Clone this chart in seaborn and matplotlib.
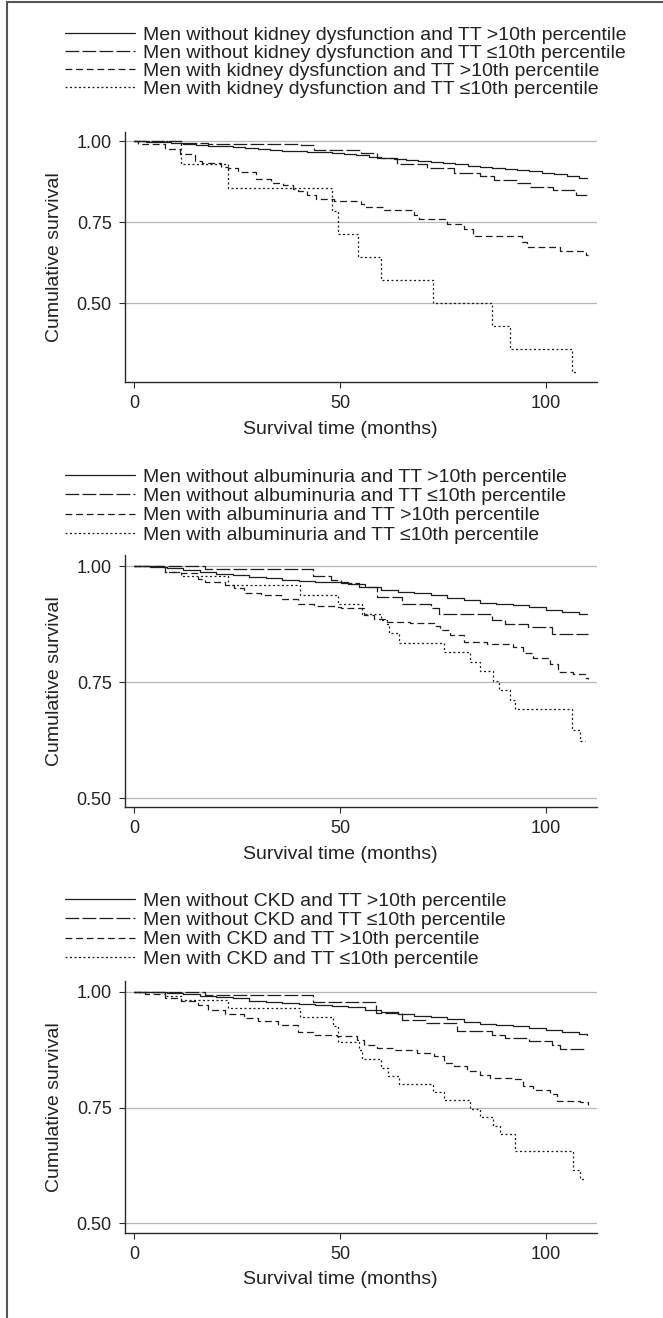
import numpy as np
import pandas as pd
import matplotlib
matplotlib.use("Agg")
import matplotlib.pyplot as plt
import seaborn as sns
from matplotlib.lines import Line2D

sns.set_theme(style="white")
plt.rcParams['font.family'] = ['Liberation Sans', 'DejaVu Sans']

# ---------------- data ----------------
# Panel 1: kidney dysfunction
kd_labels = ["Men without kidney dysfunction and TT >10th percentile",
             "Men without kidney dysfunction and TT \u226410th percentile",
             "Men with kidney dysfunction and TT >10th percentile",
             "Men with kidney dysfunction and TT \u226410th percentile"]
kd1_t = [0, 3, 6, 9, 12, 15, 18, 21, 24, 27, 30, 33, 36, 39, 42, 45, 48, 51, 54, 57, 60, 63, 66, 69, 72, 75,
         78, 81, 84, 87, 90, 93, 96, 99, 102, 105, 108, 110]
kd1_s = [1.000, 0.999, 0.997, 0.995, 0.993, 0.990, 0.987, 0.985, 0.983, 0.980, 0.977, 0.975, 0.972, 0.970,
         0.968, 0.967, 0.965, 0.962, 0.957, 0.952, 0.948, 0.945, 0.942, 0.939, 0.936, 0.933, 0.929, 0.923,
         0.920, 0.918, 0.916, 0.913, 0.909, 0.904, 0.899, 0.893, 0.888, 0.886]
kd2_t = [0, 11.5, 18.0, 40.5, 43.8, 55.0, 59.1, 63.9, 71.2, 77.6, 84.0, 87.3, 92.9, 96.1, 101.8, 107.4, 110.2]
kd2_s = [1.0, 0.995, 0.991, 0.988, 0.975, 0.964, 0.949, 0.929, 0.918, 0.902, 0.893, 0.882, 0.872, 0.860,
         0.849, 0.834, 0.834]
kd3_t = [0, 1.0, 7.5, 11.1, 14.7, 16.4, 21.2, 22.8, 25.2, 29.7, 33.3, 36.1, 38.5, 39.7, 42.1, 44.2, 48.6,
         55.0, 55.8, 60.7, 67.9, 69.1, 76.0, 80.0, 82.4, 94.1, 95.3, 103.4, 109.8, 110.2]
kd3_s = [1.0, 0.991, 0.977, 0.962, 0.939, 0.933, 0.921, 0.918, 0.906, 0.885, 0.873, 0.864, 0.854, 0.847,
         0.834, 0.823, 0.815, 0.806, 0.796, 0.787, 0.772, 0.760, 0.746, 0.728, 0.707, 0.690, 0.672, 0.661,
         0.649, 0.649]
kd4_t = [0, 11.3, 22.8, 48.0, 49.6, 54.4, 59.9, 72.6, 86.9, 91.3, 106.4, 107.8]
kd4_s = [1.0, 0.929, 0.857, 0.786, 0.714, 0.643, 0.571, 0.500, 0.429, 0.357, 0.286, 0.286]

# Panel 2: albuminuria
alb_labels = ["Men without albuminuria and TT >10th percentile",
              "Men without albuminuria and TT \u226410th percentile",
              "Men with albuminuria and TT >10th percentile",
              "Men with albuminuria and TT \u226410th percentile"]
alb1_t = [0, 4, 8, 12, 16, 20, 24, 28, 32, 36, 40, 44, 48, 52, 56, 60, 64, 68, 72, 76, 80, 84, 88, 92, 96,
          100, 104, 108, 110]
alb1_s = [1.000, 0.998, 0.995, 0.991, 0.987, 0.984, 0.980, 0.977, 0.974, 0.971, 0.968, 0.966, 0.965, 0.961,
          0.954, 0.949, 0.945, 0.941, 0.937, 0.932, 0.926, 0.921, 0.919, 0.916, 0.911, 0.906, 0.901, 0.897,
          0.896]
alb2_t = [0, 17.2, 43.4, 47.8, 50.2, 54.6, 59.1, 65.1, 72.0, 74.0, 86.9, 90.1, 95.7, 101.4, 110.2]
alb2_s = [1.0, 0.993, 0.978, 0.970, 0.964, 0.955, 0.934, 0.918, 0.909, 0.896, 0.883, 0.875, 0.868, 0.853,
          0.853]
alb3_t = [0, 7.5, 11.5, 15.6, 17.2, 22.1, 24.4, 26.8, 30.9, 35.7, 39.7, 43.8, 48.6, 50.2, 55.8, 58.2, 61.4,
          67.1, 72.8, 74.4, 76.8, 80.0, 85.7, 92.1, 94.5, 96.9, 101.0, 103.0, 106.6, 109.4, 110.2]
alb3_s = [1.0, 0.988, 0.986, 0.973, 0.966, 0.959, 0.952, 0.942, 0.937, 0.930, 0.919, 0.914, 0.912, 0.909,
          0.894, 0.885, 0.880, 0.878, 0.871, 0.862, 0.851, 0.837, 0.832, 0.826, 0.812, 0.801, 0.790, 0.772,
          0.768, 0.758, 0.756]
alb4_t = [0, 7.5, 11.5, 22.9, 40.3, 49.5, 55.4, 59.9, 61.4, 61.8, 64.3, 75.2, 81.5, 83.9, 87.1, 88.7, 91.3,
          92.5, 106.4, 108.2, 109.4]
alb4_s = [1.0, 0.988, 0.978, 0.959, 0.937, 0.918, 0.896, 0.883, 0.876, 0.856, 0.835, 0.814, 0.794, 0.774,
          0.753, 0.732, 0.712, 0.693, 0.647, 0.624, 0.624]

# Panel 3: CKD
ckd_labels = ["Men without CKD and TT >10th percentile",
              "Men without CKD and TT \u226410th percentile",
              "Men with CKD and TT >10th percentile",
              "Men with CKD and TT \u226410th percentile"]
ckd1_t = [0, 4, 8, 12, 16, 20, 24, 28, 32, 36, 40, 44, 48, 52, 56, 60, 64, 68, 72, 76, 80, 84, 88, 92, 96,
          100, 104, 108, 110]
ckd1_s = [1.000, 0.999, 0.997, 0.994, 0.991, 0.989, 0.986, 0.981, 0.977, 0.975, 0.973, 0.972, 0.970, 0.966,
          0.961, 0.956, 0.951, 0.948, 0.945, 0.941, 0.935, 0.931, 0.929, 0.926, 0.922, 0.917, 0.912, 0.908,
          0.907]
ckd2_t = [0, 10, 17.2, 43.4, 58.7, 65.1, 70.8, 78.4, 86.8, 90.1, 95.8, 101.4, 103.4, 109.8]
ckd2_s = [1.0, 0.999, 0.993, 0.977, 0.955, 0.939, 0.932, 0.916, 0.907, 0.901, 0.893, 0.886, 0.876, 0.876]
ckd3_t = [0, 2.7, 7.5, 11.5, 15.6, 18.0, 22.1, 26.8, 30.1, 34.9, 39.7, 43.8, 49.4, 54.2, 55.8, 59.1, 63.1,
          68.7, 72.8, 75.2, 77.6, 80.8, 84.0, 86.5, 92.1, 94.5, 96.9, 101.0, 102.6, 108.2, 110.2]
ckd3_s = [1.0, 0.995, 0.986, 0.981, 0.971, 0.961, 0.952, 0.943, 0.936, 0.929, 0.914, 0.907, 0.904, 0.896,
          0.886, 0.879, 0.875, 0.868, 0.861, 0.846, 0.839, 0.829, 0.821, 0.814, 0.812, 0.796, 0.787, 0.779,
          0.764, 0.761, 0.755]
ckd4_t = [0, 7.5, 11.5, 22.8, 40.3, 48.2, 49.5, 54.6, 55.4, 59.9, 61.6, 64.3, 72.6, 75.2, 81.5, 83.9, 87.1,
          88.9, 92.5, 106.6, 108.2, 109.4]
ckd4_s = [1.0, 0.991, 0.982, 0.964, 0.945, 0.926, 0.891, 0.875, 0.854, 0.836, 0.818, 0.801, 0.784, 0.766,
          0.746, 0.729, 0.711, 0.693, 0.656, 0.616, 0.596, 0.596]

x_ticks = [0, 50, 100]
y_ticks_1 = [0.50, 0.75, 1.00]
y_ticks_2 = [0.50, 0.75, 1.00]
x_label = "Survival time (months)"
y_label = "Cumulative survival"

panels = [
    (kd_labels, [(kd1_t, kd1_s), (kd2_t, kd2_s), (kd3_t, kd3_s), (kd4_t, kd4_s)], y_ticks_1),
    (alb_labels, [(alb1_t, alb1_s), (alb2_t, alb2_s), (alb3_t, alb3_s), (alb4_t, alb4_s)], y_ticks_2),
    (ckd_labels, [(ckd1_t, ckd1_s), (ckd2_t, ckd2_s), (ckd3_t, ckd3_s), (ckd4_t, ckd4_s)], y_ticks_2),
]

# ---------------- layout / style ----------------
W, H = 663, 1318
fig = plt.figure(figsize=(W / 100, H / 100), dpi=100)
fig.patch.set_facecolor("white")

LINE_COL = "#1e1e1e"
dash_specs = ["", (11, 2.6), (5.5, 3.0), (1.6, 2.0)]
LW = 0.9
FS_TICK = 13
FS_TEXT = 14

ax_left, ax_right = 125, 597
boxes = [(132.0, 382.3, (0.2545, 1.0294)),
         (555.0, 807.3, (0.480, 1.024)),
         (980.6, 1232.7, (0.4797, 1.024))]
legend_centers = [62.0, 506.0, 930.0]
legend_spacing = [0.03, 0.08, 0.08]
xlim = (-2.18, 112.4)

for (labels, series, yt), (top, bot, ylim), lc, lsp in zip(panels, boxes, legend_centers, legend_spacing):
    ax = fig.add_axes([ax_left / W, 1 - bot / H, (ax_right - ax_left) / W, (bot - top) / H])
    frames = []
    for lab, (t, s) in zip(labels, series):
        frames.append(pd.DataFrame({"time": t, "surv": s, "group": lab}))
    df = pd.concat(frames, ignore_index=True)
    sns.lineplot(data=df, x="time", y="surv", style="group", style_order=labels,
                 dashes=dict(zip(labels, dash_specs)), color=LINE_COL, linewidth=LW,
                 estimator=None, sort=False, drawstyle="steps-post", legend=False, ax=ax)
    ax.set_xlim(*xlim)
    ax.set_ylim(*ylim)
    ax.set_xticks(x_ticks)
    ax.set_yticks(yt)
    ax.set_yticklabels([f"{v:.2f}" for v in yt])
    ax.set_xlabel("")
    ax.set_ylabel("")
    ax.yaxis.grid(True, color="#b8b8b8", linewidth=0.9)
    ax.xaxis.grid(False)
    ax.set_axisbelow(True)
    for sp in ["top", "right"]:
        ax.spines[sp].set_visible(False)
    for sp in ["left", "bottom"]:
        ax.spines[sp].set_color("#2a2a2a")
        ax.spines[sp].set_linewidth(1.0)
    ax.tick_params(axis="both", direction="out", length=4.5, width=0.8, color="#2a2a2a",
                   labelsize=FS_TICK, labelcolor="#222222", left=True, bottom=True)
    ax.tick_params(axis="x", pad=5)
    ax.tick_params(axis="y", pad=5)
    ax.set_facecolor("white")

    handles = [Line2D([0], [0], color=LINE_COL, linewidth=LW,
                      linestyle="-" if d == "" else (0, d)) for d in dash_specs]
    ax.legend(handles, labels, loc="center left", bbox_to_anchor=(65 / W, 1 - lc / H),
              bbox_transform=fig.transFigure, frameon=False, fontsize=FS_TEXT,
              handlelength=3.6, handletextpad=0.4, labelspacing=lsp,
              borderpad=0, borderaxespad=0, labelcolor="#222222")

    x50 = ax.transData.transform((50, 0))[0]
    fig.text(x50 / fig.bbox.width, 1 - (bot + 47) / H, x_label, ha="center", va="center",
             fontsize=FS_TEXT, color="#222222")
    fig.text(55 / W, 1 - (top + bot) / 2 / H, y_label, ha="center", va="center", rotation=90,
             fontsize=FS_TEXT, color="#222222")

# partial frame (top and left edges visible in the crop)
fig.add_artist(Line2D([7 / W, 7 / W], [0, 1 - 2 / H], transform=fig.transFigure,
                      color="#555555", linewidth=1.5))
fig.add_artist(Line2D([7 / W, 1], [1 - 2 / H, 1 - 2 / H], transform=fig.transFigure,
                      color="#555555", linewidth=1.5))

fig.savefig("out.png", dpi=100, facecolor="white")
